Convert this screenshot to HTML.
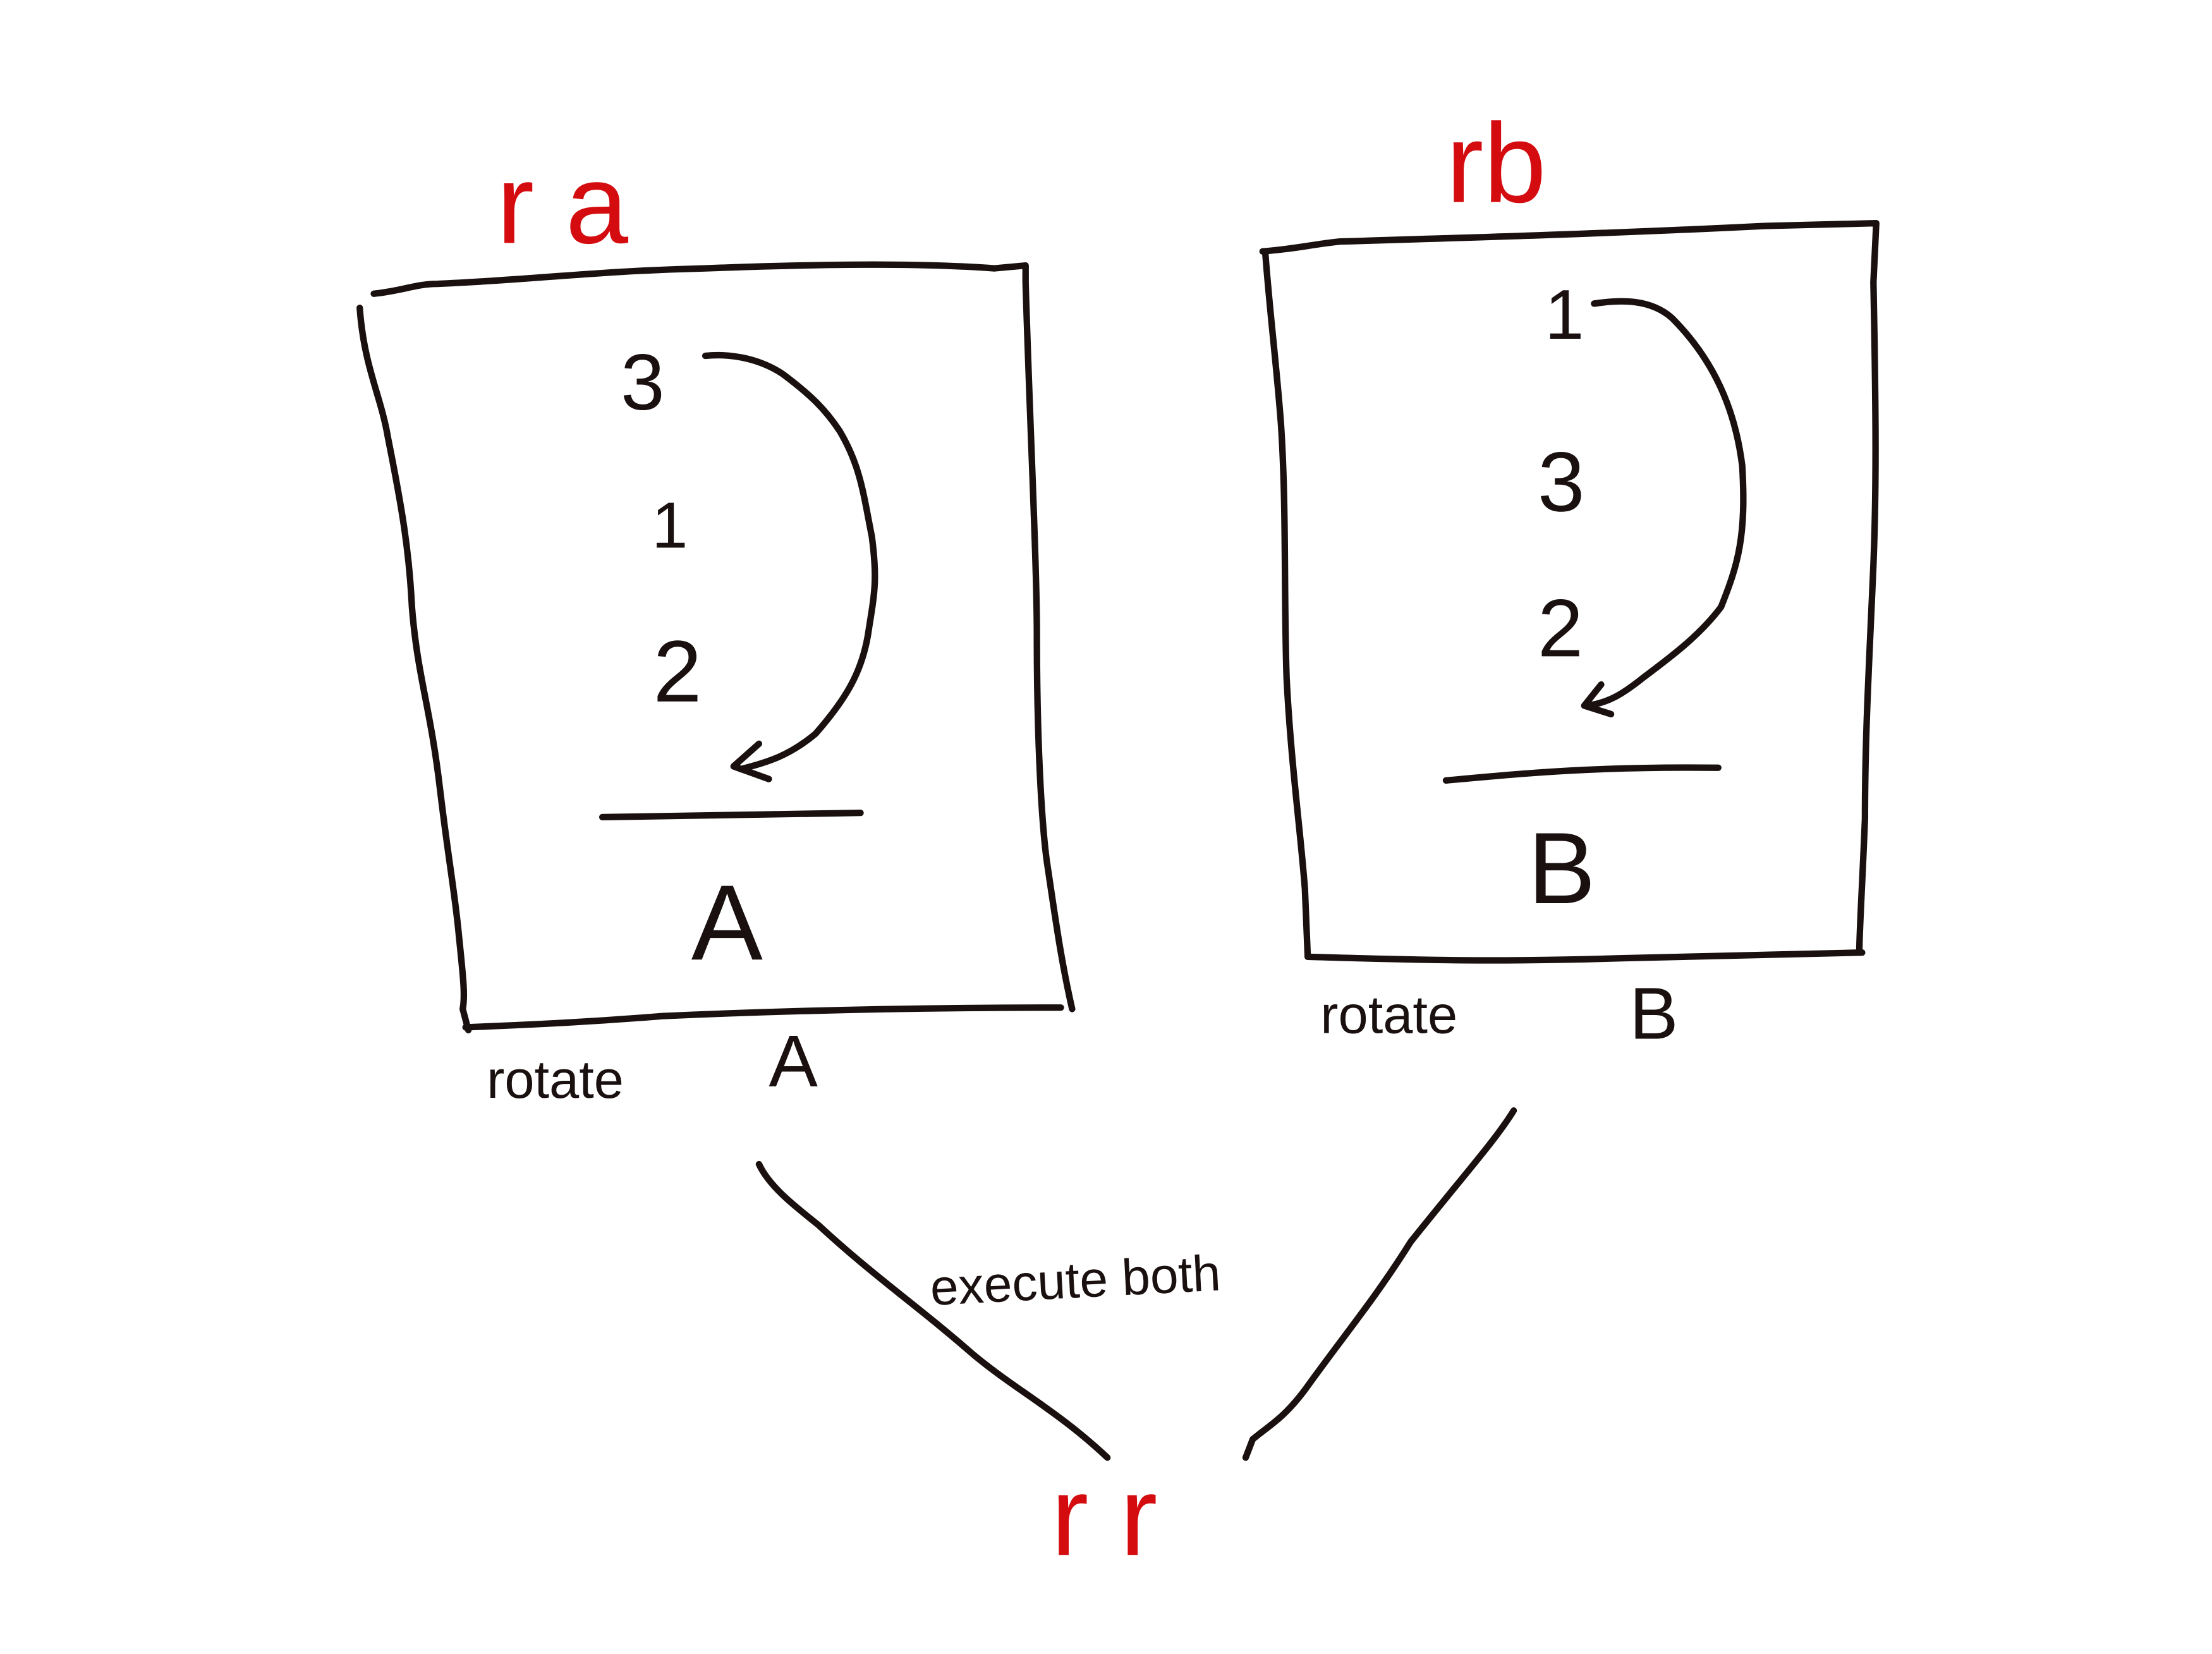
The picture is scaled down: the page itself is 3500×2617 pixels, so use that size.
<!DOCTYPE html>
<html><head><meta charset="utf-8"><style>
html,body{margin:0;padding:0;background:#fff;}
svg{display:block;}
text{font-family:"Liberation Sans",sans-serif;}
</style></head><body>
<svg width="3500" height="2617" viewBox="0 0 1568 1172" xmlns="http://www.w3.org/2000/svg">
<rect width="1568" height="1172" fill="#ffffff"/>
<g fill="none" stroke="#1a1010" stroke-width="4.6" stroke-linecap="round" stroke-linejoin="round">
  <g>
    <path d="M265,208 C285,206 295,201 310,201 C380,198 420,192 500,190 C580,187 650,186 705,190 L727,188 L727,200 C730,300 735,400 735,450 C735,520 738,580 742,610 C748,650 752,680 760,715"/>
    <path d="M255,218 C258,260 270,280 275,310 C285,360 290,390 292,430 C296,480 305,500 312,560 C318,610 322,630 325,660 C328,690 330,705 328,715 L332,730"/>
    <path d="M330,728 C380,726 420,724 470,720 C560,716 650,714 752,714"/>
    <path d="M427,579 L610,576"/>
    <path d="M500,252 C520,250 540,255 555,265 C575,280 585,290 595,305 C610,330 612,350 618,380 C622,410 620,420 616,445 C612,475 600,495 578,520 C560,535 545,540 525,545 M538,527 L520,543 L545,552"/>
  </g>
  <g>
    <path d="M895,178 C920,176 930,173 950,171 C1050,168 1150,165 1250,160 L1330,158 L1328,200 C1330,300 1330,350 1328,400 C1325,470 1322,520 1322,580 C1320,630 1318,660 1318,675"/>
    <path d="M897,180 C900,220 905,260 908,300 C912,360 910,420 912,480 C915,540 922,590 925,630 L927,678"/>
    <path d="M927,678 C1000,680 1050,682 1150,679 C1230,677 1280,676 1320,675"/>
    <path d="M1025,553 C1080,548 1130,543 1218,544"/>
    <path d="M1130,215 C1150,212 1170,212 1185,225 C1215,255 1230,290 1235,330 C1238,380 1232,400 1220,430 C1205,450 1185,465 1165,480 C1150,492 1140,498 1125,500 M1135,485 L1123,500 L1142,506"/>
  </g>
  <path d="M538,825 C545,840 560,852 580,868 C620,905 650,925 690,960 C720,985 750,1000 785,1033"/>
  <path d="M1073,787 C1060,808 1040,830 1000,880 C975,920 950,950 925,985 C910,1005 900,1010 888,1020 L883,1033"/>
</g>
<g fill="#d40c10">
  <text x="352" y="172" font-size="80">r a</text>
  <text x="1025" y="143" font-size="80">rb</text>
  <text x="745" y="1102" font-size="80">r r</text>
</g>
<g fill="#1a1010">
  <text x="440" y="290" font-size="56">3</text>
  <text x="462" y="388" font-size="46">1</text>
  <text x="463" y="497" font-size="62">2</text>
  <text x="490" y="680" font-size="76">A</text>
  <text x="1095" y="240" font-size="50">1</text>
  <text x="1090" y="362" font-size="60">3</text>
  <text x="1090" y="465" font-size="58">2</text>
  <text x="1083" y="640" font-size="72">B</text>
  <text x="345" y="778" font-size="38">rotate</text>
  <text x="545" y="770" font-size="52">A</text>
  <text x="936" y="732" font-size="38">rotate</text>
  <text x="1155" y="736" font-size="52">B</text>
  <text x="660" y="925" font-size="36" transform="rotate(-3 660 925)">execute both</text>
</g>
</svg>
</body></html>
